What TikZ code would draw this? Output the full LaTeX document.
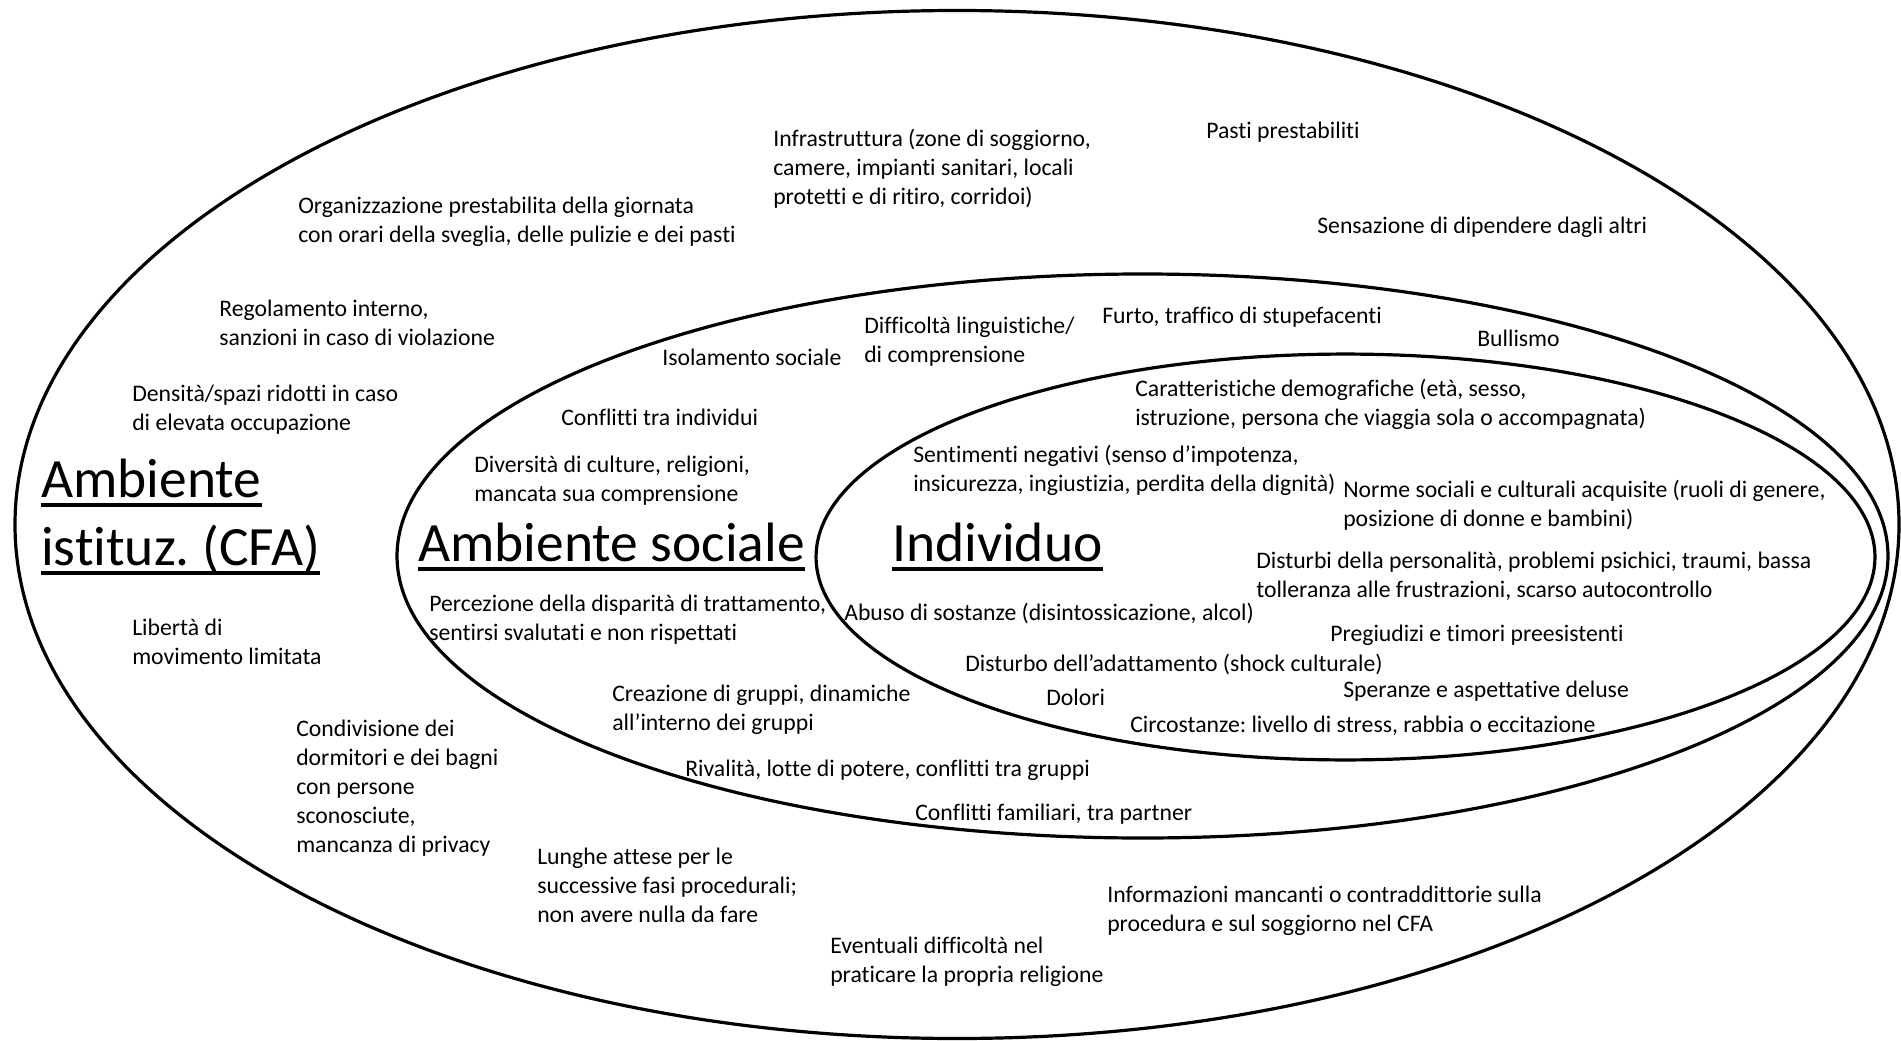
\documentclass[tikz,border=0pt]{standalone}
\usepackage{fontspec}
\setmainfont{Carlito}[Ligatures=CommonOff]
\usepackage{tikz}
\frenchspacing

\begin{document}
\begin{tikzpicture}[x=0.75pt,y=-0.75pt,
	testo/.style={anchor=west,align=left,inner sep=0pt,yshift=-1.8pt,font=\fontsize{17.8}{21.7}\selectfont},
	titolo/.style={anchor=base west,inner sep=0pt,font=\fontsize{41.6}{50}\selectfont},
	anello/.style={line width=2.4pt},
	sottolineato/.style={line width=3.4pt}]
	\useasboundingbox (0,0) rectangle (1901,1041);

	\draw[anello] (957,524.5) ellipse [x radius=706.5pt,y radius=385.5pt];
	\draw[anello] (1142.5,556) ellipse [x radius=559.1pt,y radius=211.5pt];
	\draw[anello] (1345.5,557) ellipse [x radius=397.1pt,y radius=152.2pt];

	\node[titolo] (amb1) at (41,497.5) {Ambiente};
	\node[titolo] (amb2) at (41,565.5) {istituz. (CFA)};
	\node[titolo] (soc) at (418,561.5) {Ambiente sociale};
	\node[titolo] (ind) at (892,561.5) {Individuo};
	\foreach \t in {amb1,amb2,soc,ind}
		\draw[sottolineato] ([yshift=-5.6pt]\t.base west) -- ([yshift=-5.6pt]\t.base east);

	\node[testo] (infra) at (773,166) {Infrastruttura (zone di soggiorno,\\camere, impianti sanitari, locali\\protetti e di ritiro, corridoi)};
	\node[testo] (pasti) at (1206,130) {Pasti prestabiliti};
	\node[testo] (giorn) at (298,219) {Organizzazione prestabilita della giornata\\con orari della sveglia, delle pulizie e dei pasti};
	\node[testo] (dipend) at (1317,225) {Sensazione di dipendere dagli altri};
	\node[testo] (regol) at (219,320) {Regolamento interno,\\sanzioni in caso di violazione};
	\node[testo] (lingua) at (864,339) {Difficoltà linguistiche/\\di comprensione};
	\node[testo] (furto) at (1102,315) {Furto, traffico di stupefacenti};
	\node[testo] (bull) at (1477,336) {Bullismo};
	\node[testo] (isol) at (662,355) {Isolamento sociale};
	\node[testo] (dens) at (132,407) {Densità/spazi ridotti in caso\\di elevata occupazione};
	\node[testo] (demo) at (1135,402) {Caratteristiche demografiche (età, sesso,\\istruzione, persona che viaggia sola o accompagnata)};
	\node[testo] (confind) at (561,415) {Conflitti tra individui};
	\node[testo] (sent) at (913,468) {Sentimenti negativi (senso d’impotenza,\\insicurezza, ingiustizia, perdita della dignità)};
	\node[testo] (cult) at (474,478) {Diversità di culture, religioni,\\mancata sua comprensione};
	\node[testo] (norme) at (1343,503) {Norme sociali e culturali acquisite (ruoli di genere,\\posizione di donne e bambini)};
	\node[testo] (pers) at (1256,574) {Disturbi della personalità, problemi psichici, traumi, bassa\\tolleranza alle frustrazioni, scarso autocontrollo};
	\node[testo] (disp) at (429,617) {Percezione della disparità di trattamento,\\sentirsi svalutati e non rispettati};
	\node[testo] (abuso) at (844,611) {Abuso di sostanze (disintossicazione, alcol)};
	\node[testo] (lib) at (132,639) {Libertà di\\movimento limitata};
	\node[testo] (preg) at (1330,633) {Pregiudizi e timori preesistenti};
	\node[testo] (adatt) at (965,662) {Disturbo dell’adattamento (shock culturale)};
	\node[testo] (gruppi) at (612,707) {Creazione di gruppi, dinamiche\\all’interno dei gruppi};
	\node[testo] (dolori) at (1046,695) {Dolori};
	\node[testo] (sper) at (1343,689) {Speranze e aspettative deluse};
	\node[testo] (circ) at (1130,723) {Circostanze: livello di stress, rabbia o eccitazione};
	\node[testo] (dorm) at (296,786) {Condivisione dei\\dormitori e dei bagni\\con persone\\sconosciute,\\mancanza di privacy};
	\node[testo] (rival) at (685,768) {Rivalità, lotte di potere, conflitti tra gruppi};
	\node[testo] (fam) at (915,812) {Conflitti familiari, tra partner};
	\node[testo] (attese) at (537,883) {Lunghe attese per le\\successive fasi procedurali;\\non avere nulla da fare};
	\node[testo] (info) at (1107,908) {Informazioni mancanti o contraddittorie sulla\\procedura e sul soggiorno nel CFA};
	\node[testo] (relig) at (830,959) {Eventuali difficoltà nel\\praticare la propria religione};
\end{tikzpicture}
\end{document}
